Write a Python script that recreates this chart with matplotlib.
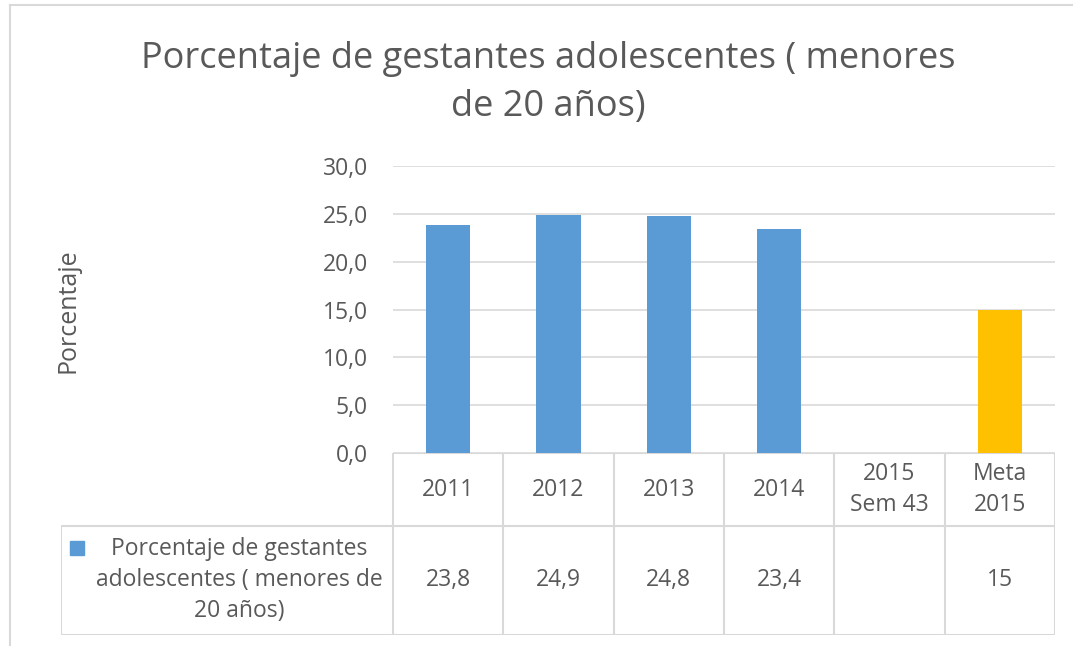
import matplotlib.pyplot as plt
from matplotlib.lines import Line2D
from matplotlib.patches import Rectangle

categorias = ["2011", "2012", "2013", "2014", "2015\nSem 43", "Meta\n2015"]
valores = [23.8, 24.9, 24.8, 23.4, None, 15]
etiquetas_tabla = ["23,8", "24,9", "24,8", "23,4", "", "15"]
colores = ["#5b9bd5", "#5b9bd5", "#5b9bd5", "#5b9bd5", "#5b9bd5", "#ffc000"]
serie = "Porcentaje de gestantes\nadolescentes ( menores de\n20 años)"
titulo = "Porcentaje de gestantes adolescentes ( menores\nde 20 años)"
yticks = [0, 5, 10, 15, 20, 25, 30]

W, H = 1073, 646
gris = "#d9d9d9"
texto = "#595959"
fuente = "Open Sans"
fs = 16.5

fig = plt.figure(figsize=(W / 100, H / 100), dpi=100)

def caja(x0, y0, x1, y1):
    # pixeles (arriba-izquierda) -> coordenadas de figura
    return [x0 / W, 1 - y1 / H, (x1 - x0) / W, (y1 - y0) / H]

# marco exterior
fig.add_artist(Line2D([10 / W, 1], [1 - 5 / H, 1 - 5 / H], color=gris, lw=1.5))
fig.add_artist(Line2D([10 / W, 10 / W], [0, 1 - 5 / H], color=gris, lw=1.5))

# grafico de barras
ax = fig.add_axes(caja(393, 166, 1055, 453))
for i, v in enumerate(valores):
    if v is not None:
        ax.bar(i, v, width=0.4, color=colores[i], zorder=3)
ax.set_xlim(-0.5, len(categorias) - 0.5)
ax.set_ylim(0, 30)
ax.set_yticks(yticks)
ax.set_yticklabels([f"{t:.1f}".replace(".", ",") for t in yticks],
                   fontsize=fs, color=texto, family=fuente)
ax.tick_params(axis="y", length=0, pad=18)
ax.set_xticks([])
ax.grid(axis="y", color=gris, lw=1.2, zorder=0)
for s in ax.spines.values():
    s.set_visible(False)

fig.text(68 / W, 1 - 311 / H, "Porcentaje", rotation=90, ha="center", va="center",
         fontsize=18, color=texto, family=fuente)
fig.text(548 / W, 1 - 83 / H, titulo, ha="center", va="center",
         fontsize=26, color=texto, family=fuente, linespacing=1.42)

# tabla de datos
ext = (393 - 61) / ((1055 - 393) / len(categorias))
at = fig.add_axes(caja(61, 453, 1055, 635))
at.set_xlim(-0.5 - ext, len(categorias) - 0.5)
at.set_ylim(0, 182)
at.axis("off")
n = len(categorias)
lk = dict(color=gris, lw=1.5, solid_capstyle="butt")
at.plot([-0.5, n - 0.5], [182, 182], **lk)
at.plot([-0.5 - ext, n - 0.5], [109, 109], **lk)
at.plot([-0.5 - ext, n - 0.5], [0, 0], **lk)
at.plot([-0.5 - ext, -0.5 - ext], [0, 109], **lk)
for k in range(n + 1):
    at.plot([k - 0.5, k - 0.5], [0, 182], **lk)
for i, c in enumerate(categorias):
    at.text(i, 145.5, c, ha="center", va="center", fontsize=fs, color=texto,
            family=fuente, linespacing=1.4)
    at.text(i, 55, etiquetas_tabla[i], ha="center", va="center", fontsize=fs,
            color=texto, family=fuente)

fig.text(239 / W, 1 - 580 / H, serie, ha="center", va="center", fontsize=fs,
         color=texto, family=fuente, linespacing=1.38)
fig.add_artist(Rectangle((70 / W, 1 - 555 / H), 14 / W, 14 / H,
                         color=colores[0], transform=fig.transFigure))

fig.savefig("out.png", dpi=100)
